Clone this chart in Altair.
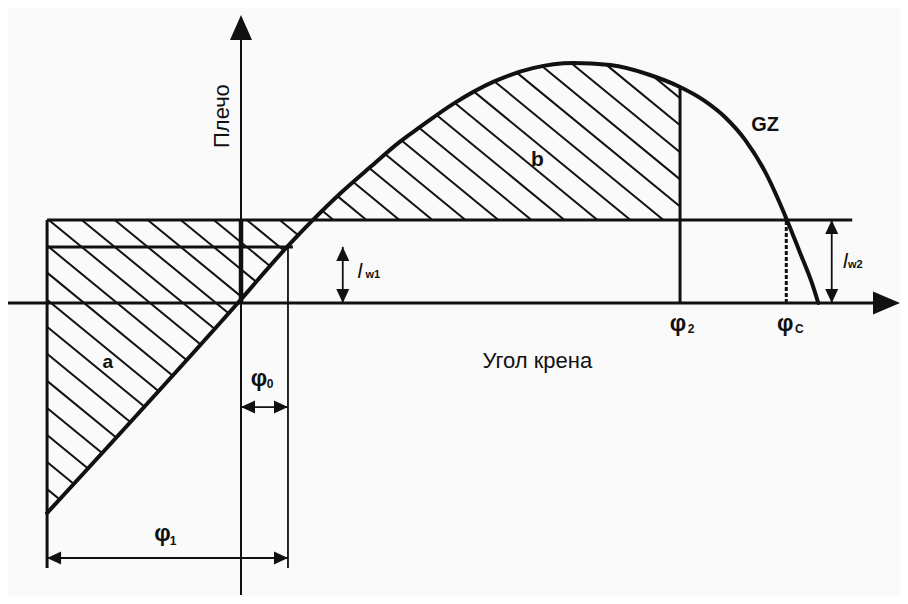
import altair as alt
import pandas as pd
import numpy as np

# ---- values (heel angle in degrees, lever in metres) ----
gz_angle = [-30.3, -0.5, 7.2, 11.25, 15.5, 20.2, 24.8, 28.0, 33.1, 39.4, 45.6, 51.9,
            57.7, 63.9, 68.6, 72.5, 75.6, 78.8, 81.9, 85.3, 87.3, 89.2, 90.2]
gz_lever = [-0.70, 0.0, 0.187, 0.277, 0.365, 0.453, 0.537, 0.587, 0.663, 0.737, 0.783, 0.80,
            0.793, 0.76, 0.72, 0.673, 0.62, 0.543, 0.437, 0.277, 0.17, 0.067, 0.0]

lw1 = 0.187          # wind heeling lever l_w1
lw2 = 0.277          # gust heeling lever l_w2
phi_start = -30.3    # roll back to windward (left edge of area a)
phi0 = 7.34          # static heel under l_w1 (φ0 / φ1 end)
phi2 = 68.6          # φ2
phic = 85.2          # φc

# annotation positions
lw1_arrow_x = 15.9
lw2_arrow_x = 92.3
phi0_arrow_y = -0.347
phi1_arrow_y = -0.85
low_end = -0.883
lw2_line_end = 95.5
lw1_line_end = 8.1

# ---- layout ----
W, H = 892, 588
X_DOM = [-36.40625, 102.96875]
Y_DOM = [-0.97667, 0.98333]
INK = "#111111"
FONT = "Liberation Sans"

xs = alt.Scale(domain=X_DOM, nice=False, zero=False)
ys = alt.Scale(domain=Y_DOM, nice=False, zero=False)


def to_px(d, l):
    return ((d - X_DOM[0]) / (X_DOM[1] - X_DOM[0]) * W,
            (Y_DOM[1] - l) / (Y_DOM[1] - Y_DOM[0]) * H)


def to_data(x, y):
    return (X_DOM[0] + x / W * (X_DOM[1] - X_DOM[0]),
            Y_DOM[1] - y / H * (Y_DOM[1] - Y_DOM[0]))


ga = np.array(gz_angle)
gl = np.array(gz_lever)
peak = int(np.argmax(gl))
x_cross = float(np.interp(lw2, gl[:peak + 1], ga[:peak + 1]))
curve_phi2 = float(np.interp(phi2, ga, gl))
y_top = float(gl.max())

# ---- hatching regions ----
poly_a = [(phi_start, lw2), (x_cross, lw2)] + \
         [(a, l) for a, l in zip(ga[::-1], gl[::-1]) if a < x_cross]
poly_b = [(x_cross, lw2), (phi2, lw2), (phi2, curve_phi2)] + \
         [(a, l) for a, l in zip(ga[::-1], gl[::-1]) if x_cross < a < phi2]


def hatch(poly, anchor_deg, slope=0.82, step=33.0):
    P = np.array([to_px(a, l) for a, l in poly])
    ax, ay = to_px(anchor_deg, lw2)
    c0 = ay - slope * ax
    vals = P[:, 1] - slope * P[:, 0]
    dc = slope * step
    n_lo = int(np.floor((vals.min() - c0) / dc))
    n_hi = int(np.ceil((vals.max() - c0) / dc))
    rows = []
    for n in range(n_lo, n_hi + 1):
        c = c0 + n * dc
        hits = []
        for i in range(len(P)):
            p, q = P[i], P[(i + 1) % len(P)]
            fp = p[1] - slope * p[0] - c
            fq = q[1] - slope * q[0] - c
            if (fp < 0) != (fq < 0):
                t = fp / (fp - fq)
                hits.append(p[0] + t * (q[0] - p[0]))
        hits.sort()
        for j in range(0, len(hits) - 1, 2):
            d1, l1 = to_data(hits[j], slope * hits[j] + c)
            d2, l2 = to_data(hits[j + 1], slope * hits[j + 1] + c)
            rows.append({"x": d1, "y": l1, "x2": d2, "y2": l2})
    return rows


hatch_df = pd.DataFrame(hatch(poly_a, 0.9) + hatch(poly_b, 19.6))


def seg_layer(rows, width, dash=None):
    df = pd.DataFrame(rows, columns=["x", "y", "x2", "y2"])
    kw = dict(color=INK, strokeWidth=width, strokeCap="butt")
    if dash:
        kw["strokeDash"] = dash
    return alt.Chart(df).mark_rule(**kw).encode(
        x=alt.X("x:Q", scale=xs, axis=None),
        y=alt.Y("y:Q", scale=ys, axis=None),
        x2="x2:Q", y2="y2:Q")


axes_lines = seg_layer([
    (0, Y_DOM[0] + 0.003, 0, 0.93),
], 2.0)
x_axis_line = seg_layer([(X_DOM[0], 0, 100.0, 0)], 3.0)
box_lines = seg_layer([
    (phi_start, lw2, lw2_line_end, lw2),
    (phi_start, lw1, lw1_line_end, lw1),
    (phi_start, lw2, phi_start, low_end),
    (phi2, 0, phi2, curve_phi2),
], 3.0)
thick_line = seg_layer([(0, 0, 0, lw2)], 4.5)
thin_lines = seg_layer([
    (phi0, lw1, phi0, low_end),
    (lw1_arrow_x, 0, lw1_arrow_x, lw1),
    (lw2_arrow_x, 0, lw2_arrow_x, lw2),
    (0, phi0_arrow_y, phi0, phi0_arrow_y),
    (phi_start, phi1_arrow_y, phi0, phi1_arrow_y),
], 1.8)
dashed = seg_layer([(phic, 0, phic, lw2)], 3.0, dash=[4, 2])

hatch_layer = alt.Chart(hatch_df).mark_rule(color=INK, strokeWidth=2.0).encode(
    x=alt.X("x:Q", scale=xs, axis=None), y=alt.Y("y:Q", scale=ys, axis=None),
    x2="x2:Q", y2="y2:Q")

curve = alt.Chart(pd.DataFrame({"a": gz_angle, "l": gz_lever})).mark_line(
    interpolate="monotone", color=INK, strokeWidth=4, strokeJoin="round", strokeCap="round"
).encode(x=alt.X("a:Q", scale=xs, axis=None), y=alt.Y("l:Q", scale=ys, axis=None))

# arrowheads: custom paths with the tip at the origin
UP = "M0,0L-0.93,2L0.93,2Z"
DOWN = "M0,0L-0.93,-2L0.93,-2Z"
LEFT = "M0,0L2,-0.93L2,0.93Z"
RIGHT = "M0,0L-2,-0.93L-2,0.93Z"
BIG_UP = "M0,0L-0.88,2L0.88,2Z"
BIG_RIGHT = "M0,0L-2,-0.85L-2,0.85Z"
heads = pd.DataFrame([
    (lw1_arrow_x, lw1, UP, 196), (lw1_arrow_x, 0, DOWN, 196),
    (lw2_arrow_x, lw2, UP, 196), (lw2_arrow_x, 0, DOWN, 196),
    (0, phi0_arrow_y, LEFT, 196), (phi0, phi0_arrow_y, RIGHT, 196),
    (phi_start, phi1_arrow_y, LEFT, 196), (phi0, phi1_arrow_y, RIGHT, 196),
    (0, Y_DOM[1] - 0.023, BIG_UP, 625), (X_DOM[1], 0, BIG_RIGHT, 729),
], columns=["x", "y", "shape", "size"])
head_layer = alt.Chart(heads).mark_point(filled=True, opacity=1, color=INK, strokeWidth=0).encode(
    x=alt.X("x:Q", scale=xs, axis=None), y=alt.Y("y:Q", scale=ys, axis=None),
    shape=alt.Shape("shape:N", scale=None), size=alt.Size("size:Q", scale=None))


def label(text, x, y, size, weight="normal", style="normal", dx=0, dy=0,
          angle=0, baseline="alphabetic"):
    return alt.Chart(pd.DataFrame({"x": [x], "y": [y], "t": [text]})).mark_text(
        font=FONT, fontSize=size, fontWeight=weight, fontStyle=style, color=INK,
        align="center", baseline=baseline, dx=dx, dy=dy, angle=angle
    ).encode(x=alt.X("x:Q", scale=xs, axis=None), y=alt.Y("y:Q", scale=ys, axis=None),
             text="t:N")


PHI = 23
PW = "bold"
labels = [
    label("Плечо", -2.97, 0.623, 22, angle=270, baseline="middle"),
    label("Угол крена", 46.3, 0, 22, dy=65),
    label("GZ", 81.9, y_top, 20, weight="bold", dy=(0.80 - 0.572) * 300),
    label("b", 46.3, lw2, 21, weight="bold", dy=-54),
    label("a", -20.8, 0, 19, weight="bold", dy=65),
    label("φ", phi2, 0, PHI, weight=PW, dx=-2, dy=28),
    label("2", phi2, 0, 12, weight="bold", dx=11, dy=30),
    label("φ", phic, 0, PHI, weight=PW, dx=-1, dy=28),
    label("C", phic, 0, 12, weight="bold", dx=13, dy=30),
    label("φ", phi0 / 2, phi0_arrow_y, PHI, weight=PW, dx=-5.5, dy=-21),
    label("0", phi0 / 2, phi0_arrow_y, 12, weight="bold", dx=5.5, dy=-19),
    label("φ", (phi_start + phi0) / 2, phi1_arrow_y, PHI, weight=PW, dx=-5, dy=-17),
    label("1", (phi_start + phi0) / 2, phi1_arrow_y, 12, weight="bold", dx=5.5, dy=-13),
    label("l", lw1_arrow_x, lw1 / 2, 21, style="italic", dx=17, dy=3),
    label("w1", lw1_arrow_x, lw1 / 2, 11, weight="bold", dx=30, dy=3),
    label("l", lw2_arrow_x, lw2 / 2, 21, style="italic", dx=13.5, dy=6.5),
    label("w2", lw2_arrow_x, lw2 / 2, 11, weight="bold", dx=23.5, dy=6.5),
]

chart = alt.layer(
    hatch_layer, axes_lines, x_axis_line, box_lines, thin_lines, thick_line, dashed,
    curve, head_layer, *labels
).properties(
    width=W, height=H, padding=0, autosize="none", background="#fafafa"
).configure_view(stroke=None)

chart.save("out.html", embed_options={"renderer": "svg", "actions": False})
